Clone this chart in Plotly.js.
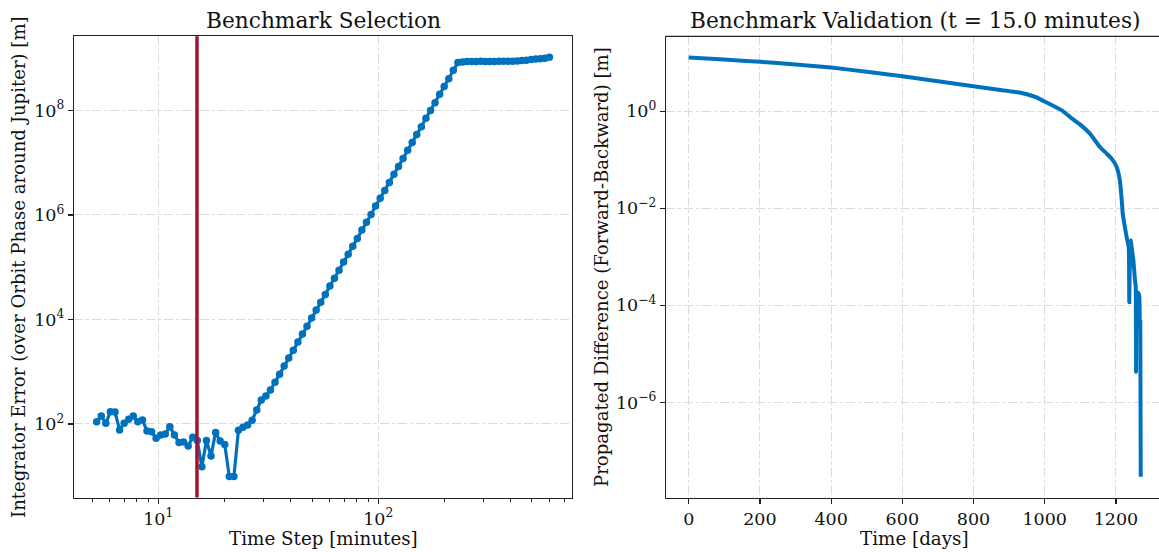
<!DOCTYPE html>
<html>
<head>
<meta charset="utf-8">
<script src="https://cdn.plot.ly/plotly-3.0.1.min.js"></script>
<style>
  html, body { margin: 0; padding: 0; background: #ffffff; }
  #chart { width: 1159px; height: 552px; }
</style>
</head>
<body>
<div id="chart"></div>
<script>
// ---- Left panel: integrator error vs time step ----
const timeStepMinutes = [
  5.250, 5.507, 5.778, 6.061, 6.358, 6.670, 6.997, 7.340, 7.700, 8.078,
  8.474, 8.890, 9.325, 9.781, 10.26, 10.76, 11.29, 11.85, 12.43, 13.04,
  13.68, 14.35, 15.05, 15.79, 16.56, 17.37, 18.23, 19.12, 20.06, 21.04,
  22.07, 23.15, 24.29, 25.48, 26.73, 28.04, 29.41, 30.86, 32.37, 33.96,
  35.62, 37.37, 39.20, 41.12, 43.14, 45.25, 47.47, 49.80, 52.24, 54.80,
  57.49, 60.31, 63.26, 66.37, 69.62, 73.04, 76.62, 80.37, 84.31, 88.45,
  92.78, 97.33, 102.1, 107.1, 112.4, 117.9, 123.7, 129.7, 136.1, 142.7,
  149.7, 157.1, 164.8, 172.9, 181.3, 190.2, 199.5, 209.3, 219.6, 230.4,
  241.7, 253.5, 265.9, 279.0, 292.7, 307.0, 322.1, 337.9, 354.4, 371.8,
  390.0, 409.2, 429.3, 450.3, 472.4, 495.6, 519.9, 545.4, 572.1, 600.0
];
const integratorError = [
  110.7, 142, 103, 172, 170, 76.8, 103, 123, 142, 110,
  119, 73.5, 71.2, 53.3, 61.7, 64.4, 88.8, 61.7, 44.0, 45.3,
  38.0, 55.7, 48.0, 15.1, 48.4, 24.4, 68.9, 46.9, 40.5, 9.84,
  9.84, 75.8, 86.5, 95.7, 118, 185, 288, 343, 447, 631,
  891, 1288, 1820, 2570, 3715, 5248, 7413, 1.07e4, 1.51e4, 2.14e4,
  3.02e4, 4.37e4, 6.17e4, 8.71e4, 1.26e5, 1.78e5, 2.51e5, 3.55e5, 5.13e5, 7.24e5,
  1.02e6, 1.48e6, 2.09e6, 2.95e6, 4.17e6, 6.03e6, 8.51e6, 1.20e7, 1.74e7, 2.45e7,
  3.47e7, 4.90e7, 7.08e7, 1.00e8, 1.41e8, 2.04e8, 2.88e8, 4.07e8, 5.89e8, 8.32e8,
  8.51e8, 8.65e8, 8.70e8, 8.68e8, 8.72e8, 8.70e8, 8.71e8, 8.69e8, 8.73e8, 8.72e8,
  8.75e8, 8.78e8, 8.81e8, 9.02e8, 9.12e8, 9.44e8, 9.66e8, 9.77e8, 1.00e9, 1.05e9
];
const selectedTimeStep = 15.0;

// ---- Right panel: forward-backward difference vs time ----
const timeDays = [
  0, 100, 200, 300, 400, 500, 600, 700, 800, 850,
  900, 925, 950, 975, 1000, 1025, 1050, 1075, 1099, 1127,
  1155, 1174, 1188, 1202, 1211, 1216, 1219, 1222, 1230, 1236,
  1237.5, 1239.5, 1241.5, 1245, 1249, 1253.5, 1255.5, 1256.5, 1258, 1260,
  1263, 1265.5, 1267.5, 1268.5, 1269.7
];
const propagatedDiff = [
  12.79, 11.61, 10.47, 9.226, 7.943, 6.531, 5.248, 4.169, 3.273, 2.917,
  2.600, 2.455, 2.239, 1.950, 1.585, 1.288, 1.023, 0.7244, 0.5370, 0.3467,
  0.1837, 0.1343, 0.1057, 0.07112, 0.03776, 0.01585, 7.94e-3, 5.62e-3, 2.57e-3, 1.58e-3,
  1.17e-4, 1.26e-3, 2.19e-3, 1.41e-3, 8.51e-4, 3.31e-4, 2.51e-4, 4.27e-6, 1.58e-4, 1.86e-4,
  1.78e-4, 1.58e-4, 3.31e-5, 4.47e-5, 2.95e-8
];

// tick labels
const leftYTickVals = [1e2, 1e4, 1e6, 1e8];
const leftYTickText = ['10<sup>2</sup>', '10<sup>4</sup>', '10<sup>6</sup>', '10<sup>8</sup>'];
const leftXTickVals = [10, 100];
const leftXTickText = ['10<sup>1</sup>', '10<sup>2</sup>'];
const leftXMinor = [5, 6, 7, 8, 9, 20, 30, 40, 50, 60, 70, 80, 90, 200, 300, 400, 500, 600, 700];
const rightYTickVals = [1, 1e-2, 1e-4, 1e-6];
const rightYTickText = ['10<sup>0</sup>', '10<sup>\u22122</sup>', '10<sup>\u22124</sup>', '10<sup>\u22126</sup>'];
const rightXTickVals = [0, 200, 400, 600, 800, 1000, 1200];

const BLUE = '#0072BD';
const RED = '#A2142F';
const FONT = 'DejaVu Serif, Liberation Serif, serif';
const W = 1159, H = 552;

const traces = [
  {
    x: timeStepMinutes, y: integratorError, type: 'scatter', mode: 'lines+markers',
    line: {color: BLUE, width: 3.2}, marker: {color: BLUE, size: 7.5},
    xaxis: 'x', yaxis: 'y', hoverinfo: 'skip'
  },
  {
    x: [selectedTimeStep, selectedTimeStep], y: [1e-2, 1e12], type: 'scatter', mode: 'lines',
    line: {color: RED, width: 3.5}, xaxis: 'x', yaxis: 'y', hoverinfo: 'skip'
  },
  {
    x: timeDays, y: propagatedDiff, type: 'scatter', mode: 'lines',
    line: {color: BLUE, width: 4, shape: 'spline', smoothing: 0.4}, xaxis: 'x2', yaxis: 'y2', hoverinfo: 'skip'
  }
];

const px = v => v / W;
const py = v => (H - v) / H;

const gridCommon = {
  showgrid: true, gridcolor: '#dcdcdc', gridwidth: 1, griddash: 'dashdot',
  zeroline: false, showline: true, linecolor: '#222222', linewidth: 1.2, mirror: true,
  ticks: 'outside', ticklen: 5, tickwidth: 1.2, tickcolor: '#222222',
  tickfont: {family: FONT, size: 17.5, color: '#111111'}
};

const yDomain = [py(497.5), py(36.3)];

const layout = {
  width: W, height: H,
  margin: {l: 0, r: 0, t: 0, b: 0},
  paper_bgcolor: '#ffffff', plot_bgcolor: '#ffffff',
  showlegend: false,
  font: {family: FONT, color: '#111111'},
  xaxis: Object.assign({}, gridCommon, {
    type: 'log', range: [0.617, 2.881], domain: [px(74), px(572)], anchor: 'y',
    tickmode: 'array', tickvals: leftXTickVals, ticktext: leftXTickText,
    minor: {tickmode: 'array', tickvals: leftXMinor, ticks: 'outside', ticklen: 3, tickwidth: 1, tickcolor: '#222222', showgrid: false}
  }),
  yaxis: Object.assign({}, gridCommon, {
    type: 'log', range: [0.592, 9.42], domain: yDomain, anchor: 'x',
    tickmode: 'array', tickvals: leftYTickVals, ticktext: leftYTickText
  }),
  xaxis2: Object.assign({}, gridCommon, {
    type: 'linear', range: [-63.8, 1321], domain: [px(666), 1], anchor: 'y2',
    tickmode: 'array', tickvals: rightXTickVals, ticktext: rightXTickVals.map(String), mirror: false
  }),
  yaxis2: Object.assign({}, gridCommon, {
    type: 'log', range: [-7.96, 1.545], domain: yDomain, anchor: 'x2',
    tickmode: 'array', tickvals: rightYTickVals, ticktext: rightYTickText, mirror: false
  }),
  shapes: [
    {type: 'line', xref: 'paper', yref: 'paper', x0: px(666), x1: 1, y0: py(36.3), y1: py(36.3),
     line: {color: '#222222', width: 1.2}}
  ],
  annotations: [
    {text: 'Benchmark Selection', xref: 'paper', yref: 'paper', x: px(323), y: py(20),
     xanchor: 'center', yanchor: 'middle', showarrow: false, font: {family: FONT, size: 21.7, color: '#111111'}},
    {text: 'Benchmark Validation (t = 15.0 minutes)', xref: 'paper', yref: 'paper', x: px(915), y: py(20),
     xanchor: 'center', yanchor: 'middle', showarrow: false, font: {family: FONT, size: 21.7, color: '#111111'}},
    {text: 'Time Step [minutes]', xref: 'paper', yref: 'paper', x: px(323), y: py(538),
     xanchor: 'center', yanchor: 'middle', showarrow: false, font: {family: FONT, size: 18.3, color: '#111111'}},
    {text: 'Time [days]', xref: 'paper', yref: 'paper', x: px(914), y: py(538),
     xanchor: 'center', yanchor: 'middle', showarrow: false, font: {family: FONT, size: 18.3, color: '#111111'}},
    {text: 'Integrator Error (over Orbit Phase around Jupiter) [m]', xref: 'paper', yref: 'paper', x: px(18), y: py(267),
     xanchor: 'center', yanchor: 'middle', textangle: -90, showarrow: false, font: {family: FONT, size: 18.1, color: '#111111'}},
    {text: 'Propagated Difference (Forward-Backward) [m]', xref: 'paper', yref: 'paper', x: px(601), y: py(267),
     xanchor: 'center', yanchor: 'middle', textangle: -90, showarrow: false, font: {family: FONT, size: 18.1, color: '#111111'}}
  ]
};

Plotly.newPlot('chart', traces, layout, {staticPlot: true, displayModeBar: false});
</script>
</body>
</html>
